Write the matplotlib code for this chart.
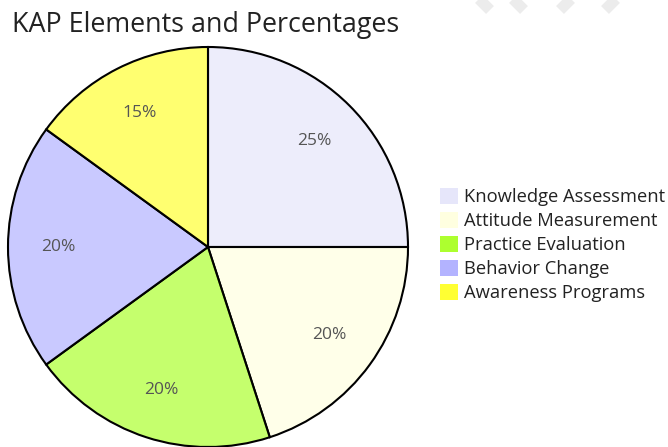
import matplotlib
matplotlib.use('Agg')
import matplotlib.pyplot as plt
from matplotlib.colors import to_rgba
from matplotlib.patches import Patch
from matplotlib.lines import Line2D

# Data
labels = ['Knowledge Assessment', 'Attitude Measurement', 'Practice Evaluation',
          'Behavior Change', 'Awareness Programs']
values = [25, 20, 20, 20, 15]
colors = ['#e6e6fa', '#ffffe0', '#adff2f', '#b3b3ff', '#ffff33']

plt.rcParams['font.family'] = ['Open Sans', 'DejaVu Sans']

W, H = 668, 447
fig = plt.figure(figsize=(W / 100, H / 100), dpi=100)

# faint watermark strokes in the top right corner
for x0, x1 in [(474, 490), (508, 524), (576, 560), (621, 605)]:
    fig.add_artist(Line2D([x0 / W, x1 / W], [1 + 6 / H, 1 - 10 / H],
                          transform=fig.transFigure, color='#ececec',
                          linewidth=8, solid_capstyle='butt'))

# Pie axes: centre (208, 247) px, radius 200 px
ax = fig.add_axes([8 / W, 0 / H, 400 / W, 400 / H])
face = [to_rgba(c, 0.7) for c in colors]
wedges, texts, autotexts = ax.pie(
    values, colors=face, startangle=90, counterclock=False,
    autopct='%1.0f%%', pctdistance=0.75, radius=1.0,
    wedgeprops=dict(edgecolor='black', linewidth=1.5),
    textprops=dict(color='#555555', fontsize=12.5))
ax.set_xlim(-1.0, 1.0)
ax.set_ylim(-1.0, 1.0)
ax.set_aspect('equal')
ax.axis('off')

fig.text(12 / W, 1 - 25 / H, 'KAP Elements and Percentages', fontsize=19.4,
         color='#222222', va='center', ha='left')

handles = [Patch(facecolor=c, edgecolor='none') for c in colors]
fig.legend(handles, labels, loc='center left',
           bbox_to_anchor=(440 / W, 1 - 245 / H), frameon=False,
           fontsize=13.2, handlelength=1.0, handleheight=1.0,
           handletextpad=0.3, labelspacing=0.3, borderpad=0,
           borderaxespad=0, labelcolor='#222222')

fig.savefig('out.png', dpi=100)
